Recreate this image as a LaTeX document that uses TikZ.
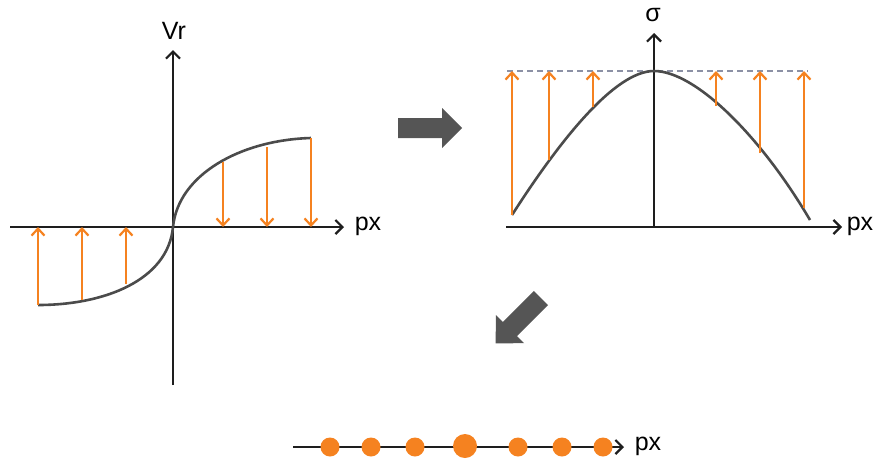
\documentclass[tikz,border=0pt]{standalone}
\usepackage{fontspec}
\setmainfont{Liberation Sans}
\usetikzlibrary{arrows.meta}
\definecolor{org}{RGB}{245,130,32}
\definecolor{axc}{RGB}{30,30,30}
\definecolor{crv}{RGB}{75,75,75}
\definecolor{bigarr}{RGB}{85,85,85}
\definecolor{dsh}{RGB}{140,145,165}
\begin{document}
\begin{tikzpicture}[x=1pt,y=-1pt,
  axis/.style={draw=axc,line width=1.8pt,-{Straight Barb[length=7pt,width=14pt,line width=2.2pt]}},
  curve/.style={draw=crv,line width=2.6pt},
  oarrow/.style={draw=org,line width=2.6pt,-{Straight Barb[length=7pt,width=13pt,line width=2.2pt]}},
  lbl/.style={inner sep=0pt,font=\fontsize{25}{28}\selectfont},
  bigarrow/.style={fill=bigarr},
  dotsm/.style={circle,fill=org,minimum size=19pt,inner sep=0pt},
  dotbig/.style={circle,fill=org,minimum size=24pt,inner sep=0pt}]
\useasboundingbox (0,0) rectangle (874,459);

% ---------- left plot ----------
\coordinate (LO) at (173,227);
\coordinate (LxS) at (10,227);
\coordinate (LxE) at (344,227);
\coordinate (LyS) at (173,385);
\coordinate (LyE) at (173,50);
\draw[axis] (LxS) -- (LxE);
\draw[axis] (LyS) -- (LyE);
\node[lbl] (Lpx) at (368,226) {px};
\node[lbl] (Lvr) at (174,31) {Vr};
\draw[curve] (38,305) .. controls (105,305) and (168,280) .. (LO)
             .. controls (178,175) and (240,140) .. (311,138);
% orange arrows left plot
\coordinate (la1) at (38,305);  \coordinate (la1t) at (38,227);
\coordinate (la2) at (82,300);  \coordinate (la2t) at (82,227);
\coordinate (la3) at (126,284); \coordinate (la3t) at (126,227);
\coordinate (ra1) at (223,162); \coordinate (ra1t) at (223,227);
\coordinate (ra2) at (267,147); \coordinate (ra2t) at (267,227);
\coordinate (ra3) at (311,138); \coordinate (ra3t) at (311,227);
\foreach \a in {la1,la2,la3,ra1,ra2,ra3} \draw[oarrow] (\a) -- (\a t);

% ---------- big arrows ----------
\fill[bigarrow] (398,118) -- (442,118) -- (442,108) -- (462,128) -- (442,148) -- (442,138) -- (398,138) -- cycle;
\fill[bigarrow] (533.9,290.9) -- (502.8,322.0) -- (495.8,315.0) -- (495.7,343.3) -- (524.0,343.2) -- (517.0,336.2) -- (548.1,305.1) -- cycle;

% ---------- right plot ----------
\coordinate (RxS) at (506,227);
\coordinate (RxE) at (842,227);
\coordinate (RyS) at (654,227);
\coordinate (RyE) at (654,33);
\draw[axis] (RxS) -- (RxE);
\draw[axis] (RyS) -- (RyE);
\node[lbl] (Rpx) at (860,226) {px};
\node[lbl] (Rsig) at (653,15) {σ};
\coordinate (dL) at (507,71);
\coordinate (dR) at (808,71);
\draw[draw=dsh,line width=1.6pt,dash pattern=on 6pt off 4pt] (dL) -- (dR);
\draw[curve] (512,215) .. controls (560,140) and (615,71) .. (654,71)
             .. controls (695,71) and (760,135) .. (810,220);
\foreach \x/\y [count=\i] in {512/215,549/160,593/107,716/106,760/153,804/208}{
  \coordinate (sb\i) at (\x,\y);
  \coordinate (st\i) at (\x,71);
  \draw[oarrow] (sb\i) -- (st\i);
}

% ---------- bottom dots ----------
\coordinate (BxS) at (293,447);
\coordinate (BxE) at (624,447);
\draw[axis] (BxS) -- (BxE);
\node[lbl] (Bpx) at (648,446) {px};
\node[dotsm] (d1) at (330,447) {};
\node[dotsm] (d2) at (371,447) {};
\node[dotsm] (d3) at (415,447) {};
\node[dotbig] (d4) at (465,446) {};
\node[dotsm] (d5) at (518,447) {};
\node[dotsm] (d6) at (562,447) {};
\node[dotsm] (d7) at (603,447) {};
\end{tikzpicture}
\end{document}
